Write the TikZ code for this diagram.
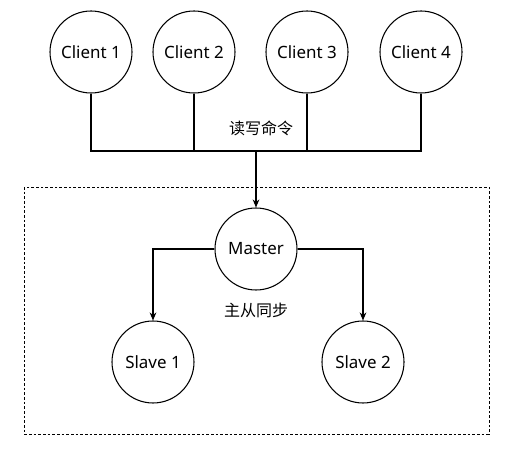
\documentclass[tikz,border=0pt]{standalone}
\usepackage{fontspec}
\setmainfont{Noto Sans}
\newfontfamily\cjk{Noto Sans CJK SC}
\usetikzlibrary{arrows.meta}

\begin{document}
\begin{tikzpicture}[x=0.75pt, y=-0.75pt, line width=0.8pt,
	node/.style = { draw, circle, minimum size=61.5pt, inner sep=0pt, font=\fontsize{12.7}{15}\selectfont },
	lbl/.style = { font=\cjk\fontsize{12}{14}\selectfont },
	arr/.style = { -{Stealth[length=6pt, width=5pt]} }]

  \useasboundingbox (0,0) rectangle (510,452);
  \draw[line width=0.6pt, dash pattern=on 2pt off 1.5pt] (24,187) rectangle (489,434);

  \node[node] (c1) at (91,52) {Client 1};
  \node[node] (c2) at (194,52) {Client 2};
  \node[node] (c3) at (307,52) {Client 3};
  \node[node] (c4) at (421,52) {Client 4};
  \coordinate (bus) at (256,151);
  \node[lbl] (rw) at (261,128) {读写命令};

  \node[node] (master) at (256,249) {Master};
  \node[node] (s1) at (153,362) {Slave 1};
  \node[node] (s2) at (363,362) {Slave 2};
  \node[lbl] (sync) at (256,310) {主从同步};

  \draw (c1.south) |- (c4.south |- bus) -- (c4.south);
  \draw (c2.south) -- (c2.south |- bus);
  \draw (c3.south) -- (c3.south |- bus);
  \draw[arr] (bus) -- (master.north);
  \draw[arr] (master.west) -| (s1.north);
  \draw[arr] (master.east) -| (s2.north);
\end{tikzpicture}
\end{document}
